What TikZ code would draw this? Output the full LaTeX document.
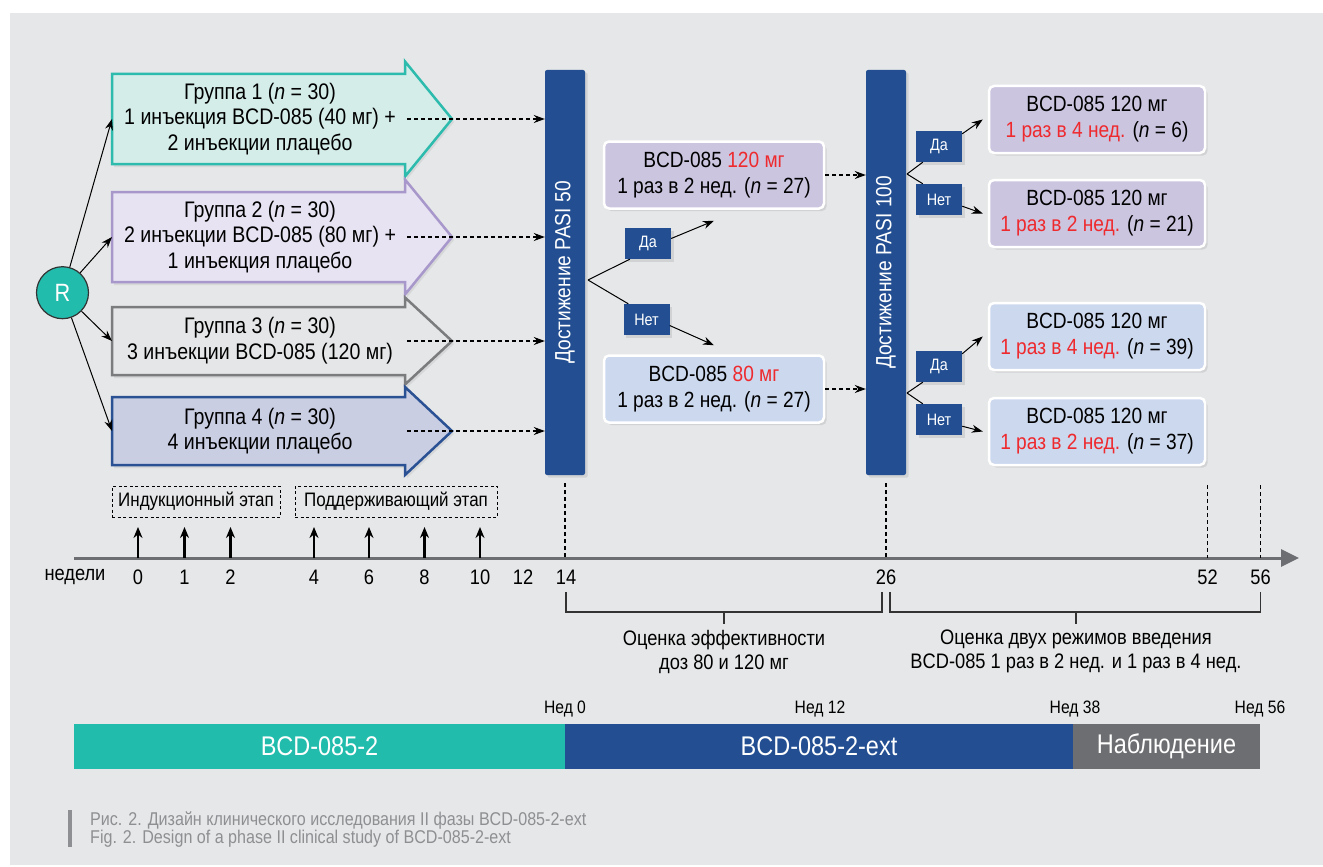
\documentclass[tikz,border=0pt]{standalone}
\usepackage{fontspec}
\setmainfont{Liberation Sans}[FakeStretch=0.87]
\usetikzlibrary{arrows.meta,shadows}

\definecolor{bggray}{HTML}{E6E7E8}
\definecolor{rteal}{HTML}{22BCAD}
\definecolor{pblue}{HTML}{234F92}
\definecolor{lav}{HTML}{CBC5E0}
\definecolor{lblue}{HTML}{CCD8EE}
\definecolor{dred}{HTML}{EE2A2E}
\definecolor{agray}{HTML}{6D6E71}
\definecolor{capgray}{HTML}{8E8F92}
\definecolor{g1f}{HTML}{D4EDE9}
\definecolor{g1d}{HTML}{2DBBAD}
\definecolor{g2f}{HTML}{E7E3F2}
\definecolor{g2d}{HTML}{A797CB}
\definecolor{g3f}{HTML}{E5E6E7}
\definecolor{g3d}{HTML}{7B7C7E}
\definecolor{g4f}{HTML}{C9CEE3}
\definecolor{g4d}{HTML}{2A5193}

\begin{document}
\begin{tikzpicture}[x=1pt, y=-1pt, every node/.style={font=\fontsize{21}{24}\selectfont, align=center, inner sep=0pt}, >={Stealth[length=11pt,width=8pt]},
	grparrow/.style={line width=2.5pt, drop shadow={opacity=0.15, shadow xshift=2pt, shadow yshift=-3pt}},
	grp/.style={font=\fontsize{22.5}{25.7}\selectfont},
	pasi/.style={fill=pblue, text=white, rotate=90, minimum width=405pt, minimum height=40pt, rounded corners=2pt, font=\fontsize{22}{26}\selectfont, drop shadow={opacity=0.2}},
	dose/.style={draw=white, line width=2.5pt, rounded corners=5pt, minimum height=67pt, font=\fontsize{22}{26}\selectfont, drop shadow={opacity=0.2}},
	yn/.style={fill=pblue, text=white, minimum width=46pt, minimum height=31pt, font=\fontsize{16.5}{19}\selectfont, drop shadow={opacity=0.2}},
	dsh/.style={dash pattern=on 4pt off 3pt, line width=1.1pt},
	inj/.style={line width=2.2pt, -{Stealth[length=11pt,width=9pt]}},
	stage/.style={draw, dash pattern=on 3pt off 2.5pt, line width=0.9pt, minimum height=31pt, font=\fontsize{19.5}{22}\selectfont},
	brk/.style={line width=1.1pt, draw=black!80},
	ned/.style={font=\fontsize{18}{20}\selectfont},
	phase/.style={text=white, minimum height=45pt, font=\fontsize{27}{30}\selectfont},
	capline/.style={anchor=west, text=capgray, font=\fontsize{18.5}{20}\selectfont}]
	\useasboundingbox (0,0) rectangle (1323,867);
	\fill[bggray] (10,13) rectangle (1323,865);
	\node[circle, fill=rteal, draw=black!80, line width=1.2pt, minimum size=52pt, text=white, font=\fontsize{25}{28}\selectfont] (R) at (62.5,292.7) {R};
	\node[pasi] (P50) at (565,272.5) {Достижение PASI 50};
	\node[pasi] (P100) at (886,272.5) {Достижение PASI 100};
	\foreach \y/\bh/\hh/\fc/\dc/\txt [count=\i] in {
		119/45/57.5/g1f/g1d/{Группа 1 (\textit{n} = 30)\\1 инъекция BCD-085 (40 мг) +\\2 инъекции плацебо},
		237/45/57.5/g2f/g2d/{Группа 2 (\textit{n} = 30)\\2 инъекции BCD-085 (80 мг) +\\1 инъекция плацебо},
		341/34/43.5/g3f/g3d/{Группа 3 (\textit{n} = 30)\\3 инъекции BCD-085 (120 мг)},
		431/34/44/g4f/g4d/{Группа 4 (\textit{n} = 30)\\4 инъекции плацебо}} {
		\draw[grparrow, fill=\fc, draw=\dc] (112,\y-\bh) -- (405,\y-\bh) -- (405,\y-\hh) -- (452,\y) -- (405,\y+\hh) -- (405,\y+\bh) -- (112,\y+\bh) -- cycle;
		\node[grp] (g\i) at (260,\y) {\txt};
		\coordinate (l\i) at (112,\y);
		\coordinate (d\i) at (407,\y);
	}
	\foreach \i in {1,...,4} {
		\draw[->, line width=1pt] (R) -- (l\i);
		\draw[dsh, ->] (d\i) -- (d\i -| P50.north);
	}

	\node[dose, fill=lav, minimum width=220pt] (b120) at (714,175) {BCD-085 \textcolor{dred}{120 мг}\\1 раз в 2 нед. (\textit{n} = 27)};
	\node[dose, fill=lblue, minimum width=220pt] (b80) at (714,389) {BCD-085 \textcolor{dred}{80 мг}\\1 раз в 2 нед. (\textit{n} = 27)};
	\node[yn] (da1) at (648,243.5) {Да};
	\node[yn] (net1) at (646.5,319.5) {Нет};
	\coordinate (f50) at (588,280);
	\draw[line width=1pt] (f50) -- ([xshift=5pt]da1.south west);
	\draw[line width=1pt] (f50) -- ([xshift=5pt]net1.north west);
	\draw[->, line width=1pt] ([yshift=5pt]da1.east) -- ([yshift=-11pt]b120.south);
	\draw[->, line width=1pt] ([yshift=-6pt]net1.east) -- ([yshift=9pt]b80.north);
	\draw[dsh, ->] (b120.east) -- (b120.east -| P100.north);
	\draw[dsh, ->] (b80.east) -- (b80.east -| P100.north);

	\node[dose, fill=lav, minimum width=216pt] (bA) at (1097,119.5) {BCD-085 120 мг\\\textcolor{dred}{1 раз в 4 нед.} (\textit{n} = 6)};
	\node[dose, fill=lav, minimum width=216pt] (bB) at (1097,213.5) {BCD-085 120 мг\\\textcolor{dred}{1 раз в 2 нед.} (\textit{n} = 21)};
	\node[dose, fill=lblue, minimum width=216pt] (bC) at (1097,336.5) {BCD-085 120 мг\\\textcolor{dred}{1 раз в 4 нед.} (\textit{n} = 39)};
	\node[dose, fill=lblue, minimum width=216pt] (bD) at (1097,431.5) {BCD-085 120 мг\\\textcolor{dred}{1 раз в 2 нед.} (\textit{n} = 37)};
	\node[yn] (da2) at (939,146.5) {Да};
	\node[yn] (net2) at (939,199.5) {Нет};
	\node[yn] (da3) at (939,366.5) {Да};
	\node[yn] (net3) at (939,419.5) {Нет};
	\coordinate (f1) at (907,174);
	\coordinate (f2) at (907,393);
	\draw[line width=1pt] (f1) -- ([xshift=7pt]da2.south west);
	\draw[line width=1pt] (f1) -- ([xshift=7pt]net2.north west);
	\draw[line width=1pt] (f2) -- ([xshift=7pt]da3.south west);
	\draw[line width=1pt] (f2) -- ([xshift=7pt]net3.north west);
	\draw[->, line width=1pt] ([yshift=-3pt]da2.north east) -- ([xshift=-5pt]bA.west);
	\draw[->, line width=1pt] ([yshift=9pt]net2.south east) -- ([xshift=-5pt]bB.west);
	\draw[->, line width=1pt] ([yshift=-3pt]da3.north east) -- ([xshift=-5pt]bC.west);
	\draw[->, line width=1pt] ([yshift=9pt]net3.south east) -- ([xshift=-5pt]bD.west);

	\node[stage, minimum width=168pt] (ind) at (196,501.5) {Индукционный этап};
	\node[stage, minimum width=202pt] (sup) at (396,501.5) {Поддерживающий этап};
	\coordinate (ax) at (74,558);
	\coordinate (ae) at (1299,558);
	\draw[agray, line width=3pt, -{Triangle[length=18pt,width=17pt]}] (ax) -- (ae);
	\node (wk) at (75,577) {недели};
	\foreach \w/\x in {0/138,1/184.5,2/230.5,4/314,6/369,8/424.5,10/480,12/523,14/566,26/886,52/1207.5,56/1260.5}
		\node (w\w) at (\x,577) {\w};
	\foreach \w in {0,1,2,4,6,8,10}
		\draw[inj] (w\w |- ax) -- ++(0,-31);
	\coordinate (t52) at (1207.5,485);
	\coordinate (t56) at (1260.5,485);
	\draw[dsh] ([yshift=-8pt]P50.west) -- (P50.west |- ax);
	\draw[dsh] ([yshift=-8pt]P100.west) -- (P100.west |- ax);
	\draw[dsh] (t52) -- (t52 |- ax);
	\draw[dsh] (t56) -- (t56 |- ax);

	\draw[brk] (566,592) -- (566,612) -- (882,612) -- (882,592);
	\draw[brk] (724,612) -- (724,624);
	\draw[brk] (890,592) -- (890,612) -- (1260.5,612) -- (1260.5,592);
	\draw[brk] (1076,612) -- (1076,624);
	\node (e1) at (724,651.5) {Оценка эффективности\\доз 80 и 120 мг};
	\node (e2) at (1076,651.5) {Оценка двух режимов введения\\BCD-085 1 раз в 2 нед. и 1 раз в 4 нед.};

	\node[ned] (n0) at (565,709) {Нед 0};
	\node[ned] (n12) at (820,709) {Нед 12};
	\node[ned] (n38) at (1075,709) {Нед 38};
	\node[ned] (n56) at (1260,709) {Нед 56};
	\node[phase, fill=rteal, minimum width=491pt] (ph1) at (319.5,746.5) {BCD-085-2};
	\node[phase, fill=pblue, minimum width=508pt] (ph2) at (819,746.5) {BCD-085-2-ext};
	\node[phase, fill=agray, minimum width=187pt] (ph3) at (1166.5,746.5) {Наблюдение};

	\fill[capgray] (68,810) rectangle (72,847);
	\node[capline] (c1) at (90,821) {Рис. 2. Дизайн клинического исследования II фазы BCD-085-2-ext};
	\node[capline] (c2) at (90,839) {Fig. 2. Design of a phase II clinical study of BCD-085-2-ext};
\end{tikzpicture}
\end{document}
